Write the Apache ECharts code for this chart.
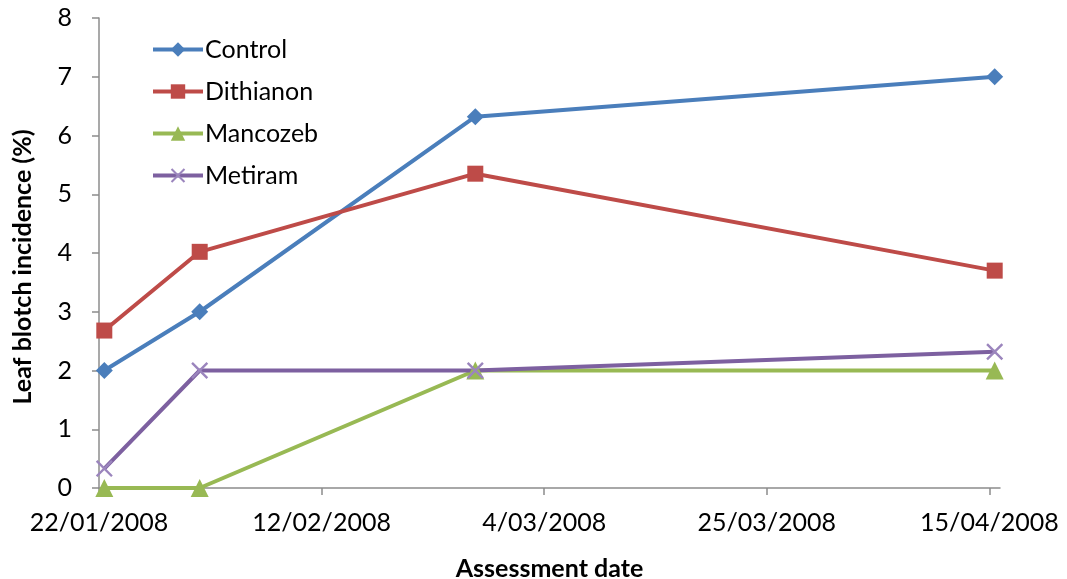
<!doctype html>
<html>
<head>
<meta charset="utf-8">
<title>Leaf blotch incidence</title>
<script src="https://cdn.jsdelivr.net/npm/echarts@6/dist/echarts.min.js"></script>
</head>
<body style="margin:0; background:#fff">
<div id="chart" style="width:1067px; height:579px"></div>
<script>
// assessment dates (days since 22/01/2008 are worked out below)
const startDate = '2008-01-22'
const dates = ['2008-01-22', '2008-01-31', '2008-02-26', '2008-04-15']
const tickLabels = ['22/01/2008', '12/02/2008', '4/03/2008', '25/03/2008', '15/04/2008']

const control = [2, 3, 6.32, 7]
const dithianon = [2.68, 4.02, 5.35, 3.7]
const mancozeb = [0, 0, 2, 2]
const metiram = [0.33, 2, 2, 2.32]

const DAY = 24 * 3600 * 1000
const dayOf = d => (Date.parse(d) - Date.parse(startDate)) / DAY
// Excel date axis puts each point in the middle of its day
const pts = vals => vals.map((v, i) => [dayOf(dates[i]) + 0.5, v])
const tickDays = tickLabels.map((t, i) => i * 21)

const font = 'Lato, "Open Sans", sans-serif'
const crossPath = 'path://M0,1 L1,0 L10,9 L9,10 Z M9,0 L10,1 L1,10 L0,9 Z'

const chart = echarts.init(document.getElementById('chart'))
chart.setOption({
    animation: false,
    textStyle: { fontFamily: font },
    grid: { left: 99, right: 67, top: 18, bottom: 91, outerBoundsMode: 'none', containLabel: false },
    legend: {
        orient: 'vertical', left: 146, top: 32, itemGap: 17,
        itemWidth: 50, itemHeight: 18,
        lineStyle: { width: 4 },
        textStyle: { fontFamily: font, fontSize: 25, color: '#000', padding: [0, 0, 0, -3] },
        data: ['Control', 'Dithianon', 'Mancozeb', 'Metiram']
    },
    xAxis: {
        type: 'value', min: 0, max: 85, interval: 21,
        name: 'Assessment date', nameLocation: 'middle', nameGap: 68,
        nameTextStyle: { fontFamily: font, fontSize: 25, fontWeight: 'bold', color: '#000' },
        axisLine: { lineStyle: { color: '#8c8c8c', width: 1.5 } },
        axisTick: { show: true, length: 7, lineStyle: { color: '#8c8c8c', width: 1.5 }, customValues: tickDays },
        axisLabel: {
            fontSize: 25, color: '#000', margin: 22,
            customValues: tickDays,
            formatter: v => tickLabels[Math.round(v / 21)] || ''
        },
        splitLine: { show: false }
    },
    yAxis: {
        type: 'value', min: 0, max: 8, interval: 1,
        name: 'Leaf blotch incidence (%)', nameLocation: 'middle', nameGap: 64,
        nameTextStyle: { fontFamily: font, fontSize: 25, fontWeight: 'bold', color: '#000', padding: [0, 28, 0, 0] },
        axisLine: { show: true, lineStyle: { color: '#8c8c8c', width: 1.5 } },
        axisTick: { show: true, length: 7, lineStyle: { color: '#8c8c8c', width: 1.5 } },
        axisLabel: { fontSize: 25, color: '#000', margin: 27 },
        splitLine: { show: false }
    },
    series: [
        { name: 'Control', type: 'line', data: pts(control), symbol: 'diamond', symbolSize: 17,
          lineStyle: { width: 4, color: '#4a7ebb' }, itemStyle: { color: '#4a7ebb' } },
        { name: 'Dithianon', type: 'line', data: pts(dithianon), symbol: 'rect', symbolSize: 16,
          lineStyle: { width: 4, color: '#be4b48' }, itemStyle: { color: '#be4b48' } },
        { name: 'Mancozeb', type: 'line', data: pts(mancozeb), symbol: 'triangle', symbolSize: 18,
          lineStyle: { width: 4, color: '#98b954' }, itemStyle: { color: '#98b954' } },
        { name: 'Metiram', type: 'line', data: pts(metiram), symbol: crossPath, symbolSize: 17,
          lineStyle: { width: 4, color: '#7d60a0' }, itemStyle: { color: '#9b85bd' } }
    ]
})
</script>
</body>
</html>
